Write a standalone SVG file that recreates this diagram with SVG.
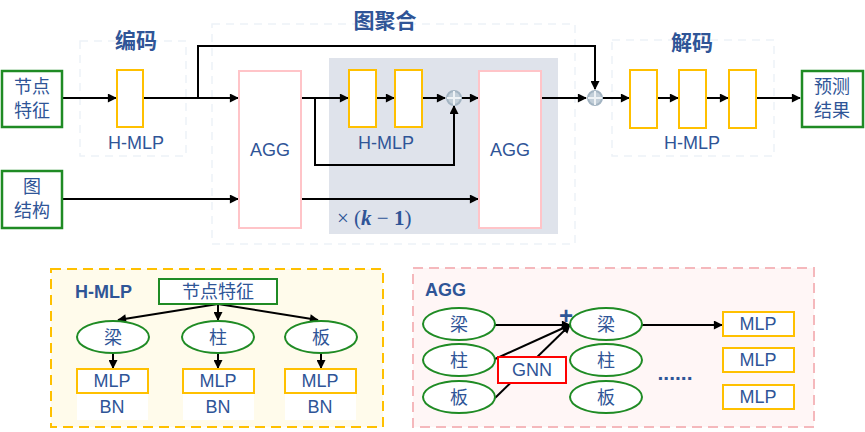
<svg xmlns="http://www.w3.org/2000/svg" width="865" height="432" viewBox="0 0 865 432">
<defs>
<marker id="ah2" viewBox="0 0 10 10" refX="9" refY="5" markerWidth="10" markerHeight="9" orient="auto" markerUnits="userSpaceOnUse">
<path d="M0,0 L10,5 L0,10 z" fill="#000"/>
</marker>
</defs>
<style>
text{font-family:"Liberation Sans","Noto Sans CJK SC",sans-serif;fill:#2f5597;text-anchor:middle;dominant-baseline:central}
.t{font-size:21px;font-weight:bold}
.l{font-size:18px}
.b{font-size:18px;font-weight:bold}
.zone{fill:none;stroke:#edf2f8;stroke-width:1.5;stroke-dasharray:8 6}
.io{fill:#fff;stroke:#1f8b24;stroke-width:2.5}
.mlp{fill:#fff;stroke:#ffc000;stroke-width:2}
.agg{fill:#fff;stroke:#ffc4c8;stroke-width:2}
.ell{fill:#fff;stroke:#1f8b24;stroke-width:2}
.arr{fill:none;stroke:#000;stroke-width:2;marker-end:url(#ah2)}
.plus circle{fill:#c3cfd9;stroke:#a3b4c2;stroke-width:2}
.plus path{stroke:#eef2f5;stroke-width:2}
</style>
<rect width="865" height="432" fill="#fff"/>

<g id="zones">
<rect class="zone" x="80" y="41" width="106" height="115"/>
<rect class="zone" x="212" y="24" width="363" height="220"/>
<rect class="zone" x="612" y="40" width="162" height="116"/>
<rect x="329" y="58" width="229" height="176" fill="#dfe3eb"/>
</g>

<g id="titles">
<text class="t" x="136" y="40">编码</text>
<text class="t" x="385" y="20">图聚合</text>
<text class="t" x="692" y="42">解码</text>
</g>

<g id="connectors">
<line class="arr" x1="62" y1="98" x2="116" y2="98"/>
<line class="arr" x1="143" y1="98" x2="238" y2="98"/>
<polyline class="arr" points="198,98 198,46 595,46 595,89"/>
<line class="arr" x1="62" y1="199" x2="238" y2="199"/>
<line class="arr" x1="301" y1="98" x2="348" y2="98"/>
<polyline class="arr" points="315,98 315,165 454,165 454,106"/>
<line class="arr" x1="376" y1="98" x2="394" y2="98"/>
<line class="arr" x1="422" y1="98" x2="445" y2="98"/>
<line class="arr" x1="462" y1="98" x2="478" y2="98"/>
<line class="arr" x1="301" y1="199" x2="478" y2="199"/>
<line class="arr" x1="541" y1="98" x2="586" y2="98"/>
<line class="arr" x1="603" y1="98" x2="629" y2="98"/>
<line class="arr" x1="657" y1="98" x2="678" y2="98"/>
<line class="arr" x1="706" y1="98" x2="728" y2="98"/>
<line class="arr" x1="756" y1="98" x2="800" y2="98"/>
</g>

<g id="node-input">
<rect class="io" x="2" y="71" width="60" height="56"/>
<text class="l" x="32" y="87">节点</text>
<text class="l" x="32" y="111">特征</text>
</g>
<g id="node-graph">
<rect class="io" x="2" y="171" width="60" height="57"/>
<text class="l" x="32" y="187">图</text>
<text class="l" x="32" y="211">结构</text>
</g>
<g id="node-enc">
<rect class="mlp" x="117" y="70" width="26" height="57"/>
<text class="l" x="136" y="143">H-MLP</text>
</g>
<g id="node-agg1">
<rect class="agg" x="239" y="71" width="62" height="157"/>
<text class="l" x="270" y="150">AGG</text>
</g>
<g id="node-hmlp-mid">
<rect class="mlp" x="349" y="70" width="27" height="57"/>
<rect class="mlp" x="395" y="70" width="27" height="57"/>
<text class="l" x="386" y="143">H-MLP</text>
</g>
<g id="plus1" class="plus">
<circle cx="454" cy="98" r="7"/>
<path d="M447,98 H461 M454,91 V105"/>
</g>
<g id="node-agg2">
<rect class="agg" x="479" y="71" width="62" height="157"/>
<text class="l" x="510" y="150">AGG</text>
</g>
<g id="label-k">
<text x="337" y="218" style="font-family:'Liberation Serif','DejaVu Serif',serif;font-size:21px;text-anchor:start">× (<tspan font-weight="bold" font-style="italic">k</tspan> − <tspan font-weight="bold">1</tspan>)</text>
</g>
<g id="plus2" class="plus">
<circle cx="595" cy="98" r="7"/>
<path d="M588,98 H602 M595,91 V105"/>
</g>
<g id="node-dec">
<rect class="mlp" x="630" y="70" width="27" height="58"/>
<rect class="mlp" x="679" y="70" width="27" height="58"/>
<rect class="mlp" x="729" y="70" width="27" height="58"/>
<text class="l" x="692" y="143">H-MLP</text>
</g>
<g id="node-output">
<rect class="io" x="802" y="71" width="61" height="56"/>
<text class="l" x="832" y="87">预测</text>
<text class="l" x="832" y="111">结果</text>
</g>

<g id="panel-hmlp">
<rect x="51" y="269" width="332" height="158" fill="#fffbeb" stroke="#ffc000" stroke-width="2" stroke-dasharray="10 6"/>
<text class="b" x="75" y="292" style="text-anchor:start">H-MLP</text>
<g id="connectors-hmlp">
<line class="arr" x1="218" y1="304" x2="118" y2="320"/>
<line class="arr" x1="218" y1="304" x2="218" y2="320"/>
<line class="arr" x1="218" y1="304" x2="318" y2="320"/>
<line class="arr" x1="113" y1="353" x2="113" y2="368"/>
<line class="arr" x1="218" y1="353" x2="218" y2="368"/>
<line class="arr" x1="321" y1="353" x2="321" y2="368"/>
</g>
<g id="h-feat">
<rect x="159" y="279" width="118" height="25" fill="#fff" stroke="#1f8b24" stroke-width="2"/>
<text class="l" x="218" y="292">节点特征</text>
</g>
<g id="h-liang"><ellipse class="ell" cx="113" cy="337" rx="36" ry="16"/><text class="l" x="113" y="338">梁</text></g>
<g id="h-zhu"><ellipse class="ell" cx="218" cy="337" rx="36" ry="16"/><text class="l" x="218" y="338">柱</text></g>
<g id="h-ban"><ellipse class="ell" cx="321" cy="337" rx="36" ry="16"/><text class="l" x="321" y="338">板</text></g>
<g id="h-mlp1"><rect class="mlp" x="77" y="369" width="71" height="24"/><text class="l" x="112" y="381">MLP</text><rect x="77" y="394" width="71" height="26" fill="#fff"/><text class="l" x="112" y="407">BN</text></g>
<g id="h-mlp2"><rect class="mlp" x="183" y="369" width="71" height="24"/><text class="l" x="218" y="381">MLP</text><rect x="183" y="394" width="71" height="26" fill="#fff"/><text class="l" x="218" y="407">BN</text></g>
<g id="h-mlp3"><rect class="mlp" x="285" y="369" width="71" height="24"/><text class="l" x="320" y="381">MLP</text><rect x="285" y="394" width="71" height="26" fill="#fff"/><text class="l" x="320" y="407">BN</text></g>
</g>

<g id="panel-agg">
<rect x="413" y="268" width="401" height="159" fill="#fff6f6" stroke="#f5b8bc" stroke-width="2" stroke-dasharray="10 6"/>
<text class="b" x="425" y="290" style="text-anchor:start">AGG</text>
<g id="connectors-agg">
<line class="arr" x1="495" y1="325" x2="570" y2="325"/>
<line class="arr" x1="495" y1="359" x2="570" y2="325"/>
<line class="arr" x1="495" y1="398" x2="570" y2="325"/>
<line class="arr" x1="642" y1="325" x2="722" y2="325"/>
</g>
<g id="a-l1"><ellipse class="ell" cx="459" cy="324" rx="36" ry="16"/><text class="l" x="459" y="325">梁</text></g>
<g id="a-l2"><ellipse class="ell" cx="459" cy="360" rx="36" ry="16"/><text class="l" x="459" y="361">柱</text></g>
<g id="a-l3"><ellipse class="ell" cx="459" cy="397" rx="36" ry="16"/><text class="l" x="459" y="398">板</text></g>
<g id="a-gnn"><rect x="498" y="357" width="68" height="26" fill="#fff" stroke="#ff0000" stroke-width="2"/><text class="l" x="532" y="370">GNN</text></g>
<text class="b" x="566" y="315" style="font-size:24px">+</text>
<g id="a-m1"><ellipse class="ell" cx="606" cy="324" rx="36" ry="16"/><text class="l" x="606" y="325">梁</text></g>
<g id="a-m2"><ellipse class="ell" cx="606" cy="360" rx="36" ry="16"/><text class="l" x="606" y="361">柱</text></g>
<g id="a-m3"><ellipse class="ell" cx="606" cy="397" rx="36" ry="16"/><text class="l" x="606" y="398">板</text></g>
<text class="b" x="675" y="372" style="font-size:21px">......</text>
<g id="a-mlp1"><rect class="mlp" x="723" y="312" width="71" height="24"/><text class="l" x="758" y="324">MLP</text></g>
<g id="a-mlp2"><rect class="mlp" x="723" y="348" width="71" height="24"/><text class="l" x="758" y="360">MLP</text></g>
<g id="a-mlp3"><rect class="mlp" x="723" y="385" width="71" height="24"/><text class="l" x="758" y="397">MLP</text></g>
</g>
</svg>
